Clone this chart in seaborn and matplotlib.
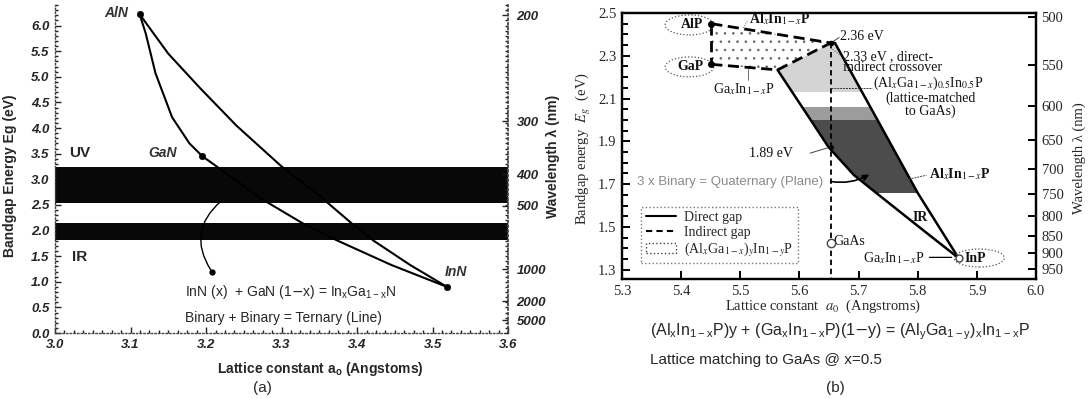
import numpy as np
import pandas as pd
import matplotlib
matplotlib.use("Agg")
import matplotlib.pyplot as plt
import seaborn as sns
from matplotlib.patches import Ellipse, Polygon, Patch
from matplotlib.lines import Line2D
from matplotlib.ticker import MultipleLocator, FixedLocator, FormatStrFormatter

# ---------------- data: panel (a) InGaN / AlGaN / AlInN ----------------
aln_gan_x = [3.112, 3.120, 3.133, 3.155, 3.178, 3.195]
aln_gan_y = [6.22, 5.85, 5.07, 4.21, 3.70, 3.45]
aln_inn_x = [3.112, 3.150, 3.192, 3.240, 3.300, 3.350, 3.392, 3.422, 3.470, 3.519]
aln_inn_y = [6.22, 5.45, 4.78, 4.05, 3.25, 2.68, 2.15, 1.80, 1.33, 0.90]
gan_inn_x = [3.195, 3.215, 3.272, 3.328, 3.373, 3.445, 3.519]
gan_inn_y = [3.45, 3.24, 2.63, 2.14, 1.81, 1.33, 0.90]
nitride_names = ["AlN", "GaN", "InN"]
nitride_a = [3.112, 3.195, 3.519]
nitride_eg = [6.22, 3.45, 0.90]
band_lo = [2.53, 1.81]
band_hi = [3.24, 2.14]
wl_ticks_a = [200, 300, 400, 500, 1000, 2000, 5000]

# ---------------- data: panel (b) AlGaInP ----------------
phos_names = ["AlP", "GaP", "InP"]
phos_a = [5.451, 5.451, 5.869]
phos_eg = [2.45, 2.26, 1.355]
gaas_a = 5.653
gaas_eg = 1.425
peak_eg = 2.36          # AlInP direct-indirect point at GaAs lattice
cross_a, cross_eg = 5.563, 2.234   # GaInP direct-indirect crossover
gainp_dir_x = [5.563, 5.619, 5.649, 5.692, 5.734, 5.800, 5.869]
gainp_dir_y = [2.234, 2.00, 1.874, 1.743, 1.65, 1.505, 1.355]
alinp_dir_x = [5.653, 5.660, 5.732, 5.800, 5.869]
alinp_dir_y = [2.36, 2.36, 2.00, 1.659, 1.355]
spec_lo = [2.13, 2.06, 2.00, 1.66]
spec_hi = [2.36, 2.13, 2.06, 2.00]
spec_col = ["#d4d4d4", "#ffffff", "#9c9c9c", "#4c4c4c"]
wl_ticks_b = [500, 550, 600, 650, 700, 750, 800, 850, 900, 950]

sns.set_theme(style="white")
plt.rcParams['font.family'] = ['Liberation Sans', 'DejaVu Sans']
plt.rcParams['hatch.linewidth'] = 0.6

fig = plt.figure(figsize=(10.88, 3.99), dpi=100)
axL = fig.add_axes([0.0506, 0.1654, 0.4164, 0.822])
axR = fig.add_axes([0.5717, 0.3008, 0.3805, 0.6667])

# ================= panel (a) =================
axL.set_xlim(3.0, 3.6)
axL.set_ylim(0, 6.4)
for lo, hi in zip(band_lo, band_hi):
    axL.axhspan(lo, hi, color="#080808", lw=0, zorder=1)
for xs, ys in [(aln_gan_x, aln_gan_y), (aln_inn_x, aln_inn_y), (gan_inn_x, gan_inn_y)]:
    sns.lineplot(x=xs, y=ys, sort=False, estimator=None, color="black", lw=1.5, ax=axL, zorder=3)
sns.scatterplot(x=nitride_a, y=nitride_eg, color="black", s=22, ax=axL, zorder=4, edgecolor="black")

ital = dict(style="italic", weight="bold", color="#333333", fontsize=10)
axL.text(nitride_a[0] - 0.015, nitride_eg[0] + 0.02, "AlN", ha="right", va="center", **ital)
axL.text(nitride_a[1] - 0.052, nitride_eg[1] + 0.06, "GaN", ha="center", va="center", **ital)
axL.text(nitride_a[2] + 0.012, nitride_eg[2] + 0.30, "InN", ha="center", va="center", **ital)
axL.text(3.033, 3.51, "UV", weight="heavy", fontsize=11, ha="center", va="center")
axL.text(3.033, 1.48, "IR", weight="heavy", fontsize=11, ha="center", va="center")
axL.annotate("", xy=(3.208, 1.19), xytext=(3.222, 2.60),
             arrowprops=dict(arrowstyle="-", color="black", lw=1.0,
                             connectionstyle="arc3,rad=0.45"), zorder=3)
axL.plot([3.208], [1.19], "o", color="black", ms=3.5, zorder=4)
axL.text(3.172, 0.80, r"InN (x)  + GaN (1$-$x) = In$_{\mathregular{x}}$Ga$_{\mathregular{1-x}}$N",
         fontsize=10, ha="left", va="center")
axL.text(3.172, 0.30, "Binary + Binary = Ternary (Line)", fontsize=10, ha="left", va="center")

axL.xaxis.set_major_locator(MultipleLocator(0.1))
axL.xaxis.set_minor_locator(MultipleLocator(0.0125))
axL.yaxis.set_major_locator(FixedLocator(np.arange(0, 6.01, 0.5)))
axL.yaxis.set_minor_locator(MultipleLocator(0.1))
axL.xaxis.set_major_formatter(FormatStrFormatter("%.1f"))
axL.yaxis.set_major_formatter(FormatStrFormatter("%.1f"))
axL.tick_params(which="both", direction="in", color="#222222", width=1.0, left=True, bottom=True)
axL.tick_params(which="major", length=4, pad=4)
axL.tick_params(which="minor", length=2)
for lab in axL.get_xticklabels() + axL.get_yticklabels():
    lab.set_fontstyle("italic"); lab.set_fontweight("bold"); lab.set_fontsize(9.5)
for s in ["top", "right"]:
    axL.spines[s].set_visible(False)
for s in ["left", "bottom"]:
    axL.spines[s].set_linestyle(":")
    axL.spines[s].set_color("#444444")
    axL.spines[s].set_linewidth(1.0)
axL.set_ylabel("Bandgap Energy Eg (eV)", weight="bold", fontsize=10)
axL.yaxis.set_label_coords(-0.085, 0.48)
axL.set_xlabel(r"Lattice constant a$_{\mathregular{o}}$ (Angstoms)", weight="bold", fontsize=10)
axL.xaxis.set_label_coords(0.585, -0.082)

axL2 = axL.twinx()
axL2.set_ylim(axL.get_ylim())
axL2.yaxis.set_major_locator(FixedLocator([1240.0 / w for w in wl_ticks_a]))
axL2.yaxis.set_minor_locator(MultipleLocator(0.1))
axL2.set_yticklabels([str(w) for w in wl_ticks_a])
axL2.tick_params(which="both", direction="in", color="#222222", width=1.0, right=True)
axL2.tick_params(which="major", length=4, pad=6)
axL2.tick_params(which="minor", length=2)
for lab in axL2.get_yticklabels():
    lab.set_fontstyle("italic"); lab.set_fontweight("bold"); lab.set_fontsize(9.5)
for s in ["top", "left", "bottom"]:
    axL2.spines[s].set_visible(False)
axL2.spines["right"].set_linestyle(":")
axL2.spines["right"].set_color("#444444")
axL2.set_ylabel("Wavelength λ (nm)", weight="bold", fontsize=10)
axL2.yaxis.set_label_coords(1.083, 0.54)
axL2.grid(False); axL.grid(False)

# ================= panel (b) =================
serif = "Liberation Serif"
axR.set_xlim(5.3, 6.0)
axR.set_ylim(1.257, 2.5)

# spectral shaded quaternary region
reg_x = [gaas_a, cross_a] + gainp_dir_x[1:] + alinp_dir_x[::-1][1:]
reg_y = [peak_eg, cross_eg] + gainp_dir_y[1:] + alinp_dir_y[::-1][1:]
region = Polygon(list(zip(reg_x, reg_y)), closed=True, fill=False, lw=0)
axR.add_patch(region)
for lo, hi, c in zip(spec_lo, spec_hi, spec_col):
    span = axR.axhspan(lo, hi, color=c, lw=0, zorder=1)
    span.set_clip_path(region)

# indirect (dotted) region
ind = Polygon([(phos_a[0], phos_eg[0]), (gaas_a, peak_eg), (cross_a, cross_eg), (phos_a[1], phos_eg[1])],
              closed=True, facecolor="white", edgecolor="#666666", hatch="..", lw=0, zorder=1)
axR.add_patch(ind)

dash_kw = dict(color="black", lw=2.0, linestyle=(0, (4, 2)), sort=False, estimator=None, ax=axR)
sns.lineplot(x=[phos_a[0], gaas_a], y=[phos_eg[0], peak_eg], **dash_kw)
sns.lineplot(x=[phos_a[1], cross_a], y=[phos_eg[1], cross_eg], **dash_kw)
sns.lineplot(x=[cross_a, gaas_a], y=[cross_eg, peak_eg], **dash_kw)
sns.lineplot(x=[phos_a[0], phos_a[1]], y=[phos_eg[0], phos_eg[1]], **dash_kw)
sns.lineplot(x=gainp_dir_x, y=gainp_dir_y, sort=False, estimator=None, color="black", lw=1.8, ax=axR)
sns.lineplot(x=alinp_dir_x, y=alinp_dir_y, sort=False, estimator=None, color="black", lw=1.8, ax=axR)
sns.lineplot(x=[gaas_a, gaas_a], y=[peak_eg, 1.257], sort=False, estimator=None, color="black",
             lw=1.3, linestyle=(0, (3, 2)), ax=axR)

axR.plot(phos_a[:2], phos_eg[:2], "o", color="black", ms=4, zorder=5)
axR.plot([gaas_a], [peak_eg], "o", color="black", ms=3, zorder=5)
axR.plot([gaas_a], [gainp_dir_y[2]], "o", color="black", ms=2.5, zorder=5)
axR.plot([gaas_a], [gaas_eg], "o", mfc="white", mec="#444444", ms=6, zorder=5)
axR.plot([phos_a[2]], [phos_eg[2]], "o", mfc="white", mec="#444444", ms=5, zorder=5)

# dotted ellipses around binary labels
for cx, cy, w, h in [(5.414, 2.444, 0.082, 0.093), (5.414, 2.248, 0.082, 0.093), (5.904, 1.355, 0.085, 0.084)]:
    axR.add_patch(Ellipse((cx, cy), w, h, fill=False, ls=":", lw=0.9, ec="#555555", zorder=4))

tk = dict(fontfamily=serif, math_fontfamily="stix", fontsize=10, color="#111111")
axR.text(5.418, 2.444, "AlP", ha="center", va="center", weight="bold", **tk)
axR.text(5.416, 2.248, "GaP", ha="center", va="center", weight="bold", **tk)
axR.text(5.880, 1.355, "InP", ha="left", va="center", weight="bold", **tk)
axR.text(5.515, 2.472, r"Al$_x$In$_{1-x}$P", ha="left", va="center", weight="bold", **tk)
axR.plot([5.505, 5.513], [2.43, 2.465], color="#444444", lw=0.6, ls=":")
axR.text(5.669, 2.388, "2.36 eV", ha="left", va="center", **tk)
axR.plot([5.656, 5.667], [2.365, 2.385], color="#444444", lw=0.7)
axR.text(5.673, 2.294, "2.33 eV , direct-", ha="left", va="center", **tk)
axR.text(5.673, 2.243, "indirect crossover", ha="left", va="center", **tk)
axR.plot([5.656, 5.670], [2.33, 2.30], color="#555555", lw=0.7, ls=":")
axR.text(5.725, 2.173, r"(Al$_x$Ga$_{1-x}$)$_{0.5}$In$_{0.5}$P", ha="left", va="center", **tk)
axR.plot([gaas_a, 5.722], [2.15, 2.15], color="#333333", lw=0.7, ls=(0, (2, 1)))
axR.text(5.822, 2.103, "(lattice-matched", ha="center", va="center", **tk)
axR.text(5.822, 2.042, "to GaAs)", ha="center", va="center", **tk)
axR.text(5.454, 2.145, r"Ga$_x$In$_{1-x}$P", ha="left", va="center", **tk)
axR.plot([5.5136, 5.5136], [2.187, 2.236], color="#555555", lw=0.6)
axR.text(5.514, 1.841, "1.89 eV", ha="left", va="center", **tk)
axR.plot([5.618, 5.648], [1.845, 1.87], color="#444444", lw=0.7)
axR.text(5.325, 1.71, "3 x Binary = Quaternary (Plane)", ha="left", va="center",
         fontsize=9.5, color="#8a8a8a")
axR.annotate("", xy=(5.722, 1.752), xytext=(5.648, 1.715),
             arrowprops=dict(arrowstyle="-|>", color="black", lw=1.2, mutation_scale=9,
                             connectionstyle="arc3,rad=0.2"), zorder=6)
axR.text(5.819, 1.748, r"Al$_x$In$_{1-x}$P", ha="left", va="center", weight="bold", **tk)
axR.plot([5.78, 5.815], [1.72, 1.742], color="#444444", lw=0.7, ls=(0, (2, 1)))
axR.text(5.805, 1.542, "IR", ha="center", va="center", weight="bold", **tk)
axR.text(5.658, 1.432, "GaAs", ha="left", va="center", **tk)
axR.text(5.707, 1.355, r"Ga$_x$In$_{1-x}$P", ha="left", va="center", **tk)
axR.annotate("", xy=(5.862, 1.358), xytext=(5.815, 1.358),
             arrowprops=dict(arrowstyle="-", color="black", lw=0.9))

# axes styling
axR.xaxis.set_major_locator(MultipleLocator(0.1))
axR.xaxis.set_major_formatter(FormatStrFormatter("%.1f"))
axR.yaxis.set_major_locator(FixedLocator(np.arange(1.3, 2.51, 0.2)))
axR.yaxis.set_major_formatter(FormatStrFormatter("%.1f"))
axR.yaxis.set_minor_locator(MultipleLocator(0.05))
axR.tick_params(which="both", direction="in", color="black", width=1.4, left=True, bottom=True)
axR.tick_params(which="major", length=6, pad=4)
axR.tick_params(which="minor", length=4)
for lab in axR.get_xticklabels() + axR.get_yticklabels():
    lab.set_fontfamily(serif); lab.set_fontsize(10.5)
for s in axR.spines.values():
    s.set_visible(True); s.set_color("black"); s.set_linewidth(1.6)
axR.set_ylabel(r"Bandgap energy  $E_g$  (eV)", fontfamily=serif, math_fontfamily="stix", fontsize=10.5)
axR.yaxis.set_label_coords(-0.07, 0.49)
axR.set_xlabel(r"Lattice constant  $a_0$  (Angstroms)", fontfamily=serif, math_fontfamily="stix", fontsize=10.5)
axR.xaxis.set_label_coords(0.485, -0.072)

axR2 = axR.twinx()
axR2.set_ylim(axR.get_ylim())
axR2.yaxis.set_major_locator(FixedLocator([1240.0 / w for w in wl_ticks_b]))
axR2.set_yticklabels([str(w) for w in wl_ticks_b])
axR2.tick_params(which="both", direction="in", color="black", width=1.4, length=6, right=True, pad=4)
for lab in axR2.get_yticklabels():
    lab.set_fontfamily(serif); lab.set_fontsize(10.5)
for s in axR2.spines.values():
    s.set_linewidth(1.6); s.set_color("black")
axR2.set_ylabel("Wavelength λ (nm)", fontfamily=serif, fontsize=10.5)
axR2.yaxis.set_label_coords(1.088, 0.455)
axR2.grid(False); axR.grid(False)

leg_handles = [Line2D([], [], color="black", lw=1.5),
               Line2D([], [], color="black", lw=1.5, ls=(0, (3, 2))),
               Patch(facecolor="white", edgecolor="#444444", ls=":", lw=1.0)]
leg_labels = ["Direct gap", "Indirect gap", r"(Al$_x$Ga$_{1-x}$)$_y$In$_{1-y}$P"]
leg = axR.legend(leg_handles, leg_labels, loc="lower left", bbox_to_anchor=(0.03, 0.035),
                 prop=dict(family=serif, size=10, math_fontfamily="stix"),
                 frameon=True, fancybox=False, handlelength=2.2, borderpad=0.3,
                 labelspacing=0.1, handletextpad=0.6)
leg.get_frame().set_linestyle(":")
leg.get_frame().set_edgecolor("#555555")
leg.get_frame().set_linewidth(1.0)

# captions
fig.text(262 / 1088, 1 - 388 / 399, "(a)", fontsize=11, ha="center", va="center")
fig.text(650 / 1088, 1 - 332 / 399,
         r"(Al$_{\mathregular{x}}$In$_{\mathregular{1-x}}$P)y + (Ga$_{\mathregular{x}}$In$_{\mathregular{1-x}}$P)(1$-$y) = (Al$_{\mathregular{y}}$Ga$_{\mathregular{1-y}}$)$_{\mathregular{x}}$In$_{\mathregular{1-x}}$P",
         fontsize=11.5, ha="left", va="center")
fig.text(650 / 1088, 1 - 360 / 399, "Lattice matching to GaAs @ x=0.5", fontsize=11, ha="left", va="center")
fig.text(835 / 1088, 1 - 388 / 399, "(b)", fontsize=11, ha="center", va="center")

fig.savefig("out.png", dpi=100)
